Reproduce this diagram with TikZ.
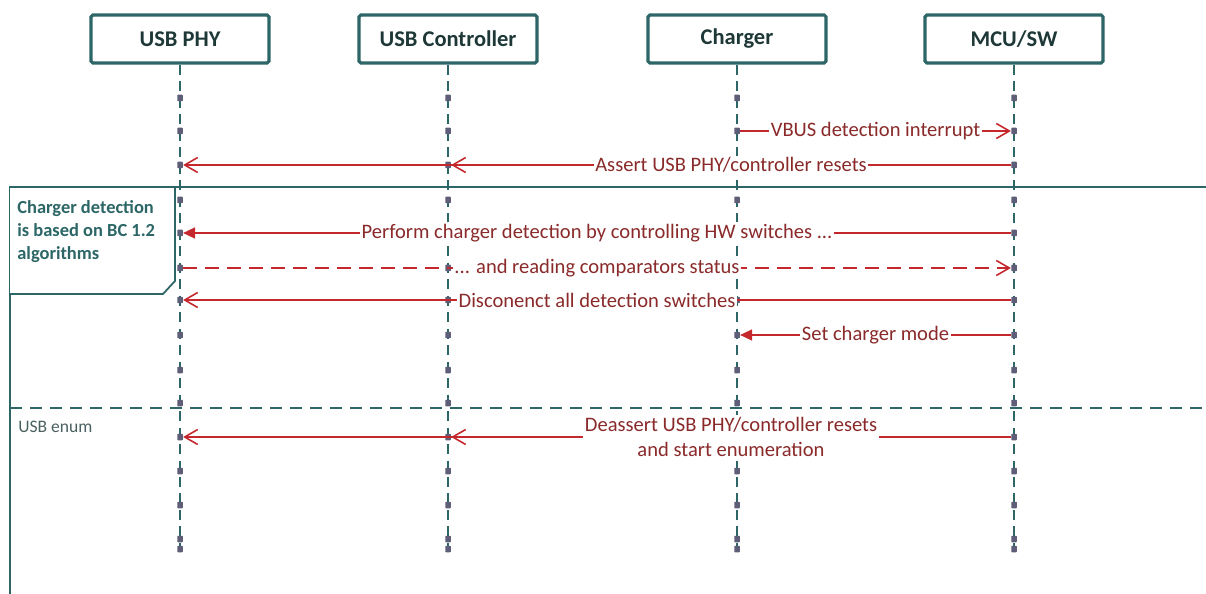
\documentclass[tikz,border=0pt]{standalone}
\usepackage{fontspec}
\setmainfont{Carlito}
\usetikzlibrary{positioning,arrows.meta}
\definecolor{frameteal}{HTML}{2C6666}
\definecolor{headtext}{HTML}{1E3838}
\definecolor{msgred}{HTML}{C4282D}
\definecolor{msgtext}{HTML}{8A2A2A}
\definecolor{dotgray}{HTML}{5E5E78}

\tikzset{
  actor/.style={draw=frameteal, line width=1.8pt, rounded corners=1pt, fill=white,
    minimum width=3.56cm, minimum height=0.96cm, text=headtext,
    font=\bfseries\fontsize{12.8}{15}\selectfont},
  lifeline/.style={frameteal, line width=1.1pt, dash pattern=on 0.2cm off 0.13cm},
  tick/.style={fill=dotgray, inner sep=0pt, minimum width=0.11cm, minimum height=0.13cm, rounded corners=0.3pt},
  msg/.style={msgred, line width=0.9pt, -{Straight Barb[length=0.26cm, width=0.3cm]}},
  msgfill/.style={msgred, line width=0.9pt, -{Triangle[length=0.24cm, width=0.22cm]}},
  msglabel/.style={fill=white, text=msgtext, inner sep=1pt, font=\fontsize{11.7}{14.6}\selectfont},
}

\begin{document}
\begin{tikzpicture}[x=0.02cm,y=-0.02cm]
\useasboundingbox (0,0) rectangle (1206,594);

% combined fragment
\draw[frameteal, line width=1pt] (1206,187) -- (10,187) -- (10,594);
\draw[frameteal, line width=1pt, dash pattern=on 0.24cm off 0.16cm] (10,408) -- (1206,408);
\draw[frameteal, line width=1pt, fill=white] (10,187) -- (175,187) -- (175,281) -- (163,294) -- (10,294);
\node[anchor=north west, inner sep=0pt, align=left, text=frameteal,
  font=\bfseries\fontsize{10.5}{13}\selectfont] (bcnote) at (17,200) {Charger detection\\is based on BC 1.2\\algorithms};
\node[anchor=west, inner sep=0pt, text=headtext!80, font=\fontsize{10}{12}\selectfont] (enumnote) at (18,427) {USB enum};

% actors
\node[actor] (phy) at (180,39) {USB PHY};
\node[actor] (ctl) at (448,39) {USB Controller};
\node[actor] (chg) at (737,39) {Charger};
\node[actor] (mcu) at (1014,39) {MCU/SW};

\foreach \n in {phy,ctl,chg,mcu}
  \draw[lifeline] (\n.south) -- ++(0,486);

% ticks on lifelines
\foreach \n/\x in {phy/180,ctl/448,chg/737,mcu/1014}
  \foreach \y [count=\r] in {98,131,165,200,233,268,300,335,370,403,437,471,505,539,549}
    \node[tick] (\n-\r) at (\x,\y) {};

% messages
\draw[msg] (chg-2) -- (mcu-2) node[midway, msglabel] {VBUS detection interrupt};
\draw[msg] (mcu-3) -- (phy-3);
\draw[msg] (mcu-3) -- (ctl-3) node[midway, msglabel] {Assert USB PHY/controller resets};
\draw[msgfill] (mcu-5) -- (phy-5) node[midway, msglabel] {Perform charger detection by controlling HW switches ...};
\draw[msg, dash pattern=on 0.28cm off 0.16cm] (phy-6) -- (mcu-6) node[midway, msglabel] {... and reading comparators status};
\draw[msg] (mcu-7) -- (phy-7) node[midway, msglabel] {Disconenct all detection switches};
\draw[msgfill] (mcu-8) -- (chg-8) node[midway, msglabel] {Set charger mode};
\draw[msg] (mcu-11) -- (phy-11);
\draw[msg] (mcu-11) -- (ctl-11) node[midway, msglabel, align=center] {Deassert USB PHY/controller resets\\and start enumeration};
\end{tikzpicture}
\end{document}
